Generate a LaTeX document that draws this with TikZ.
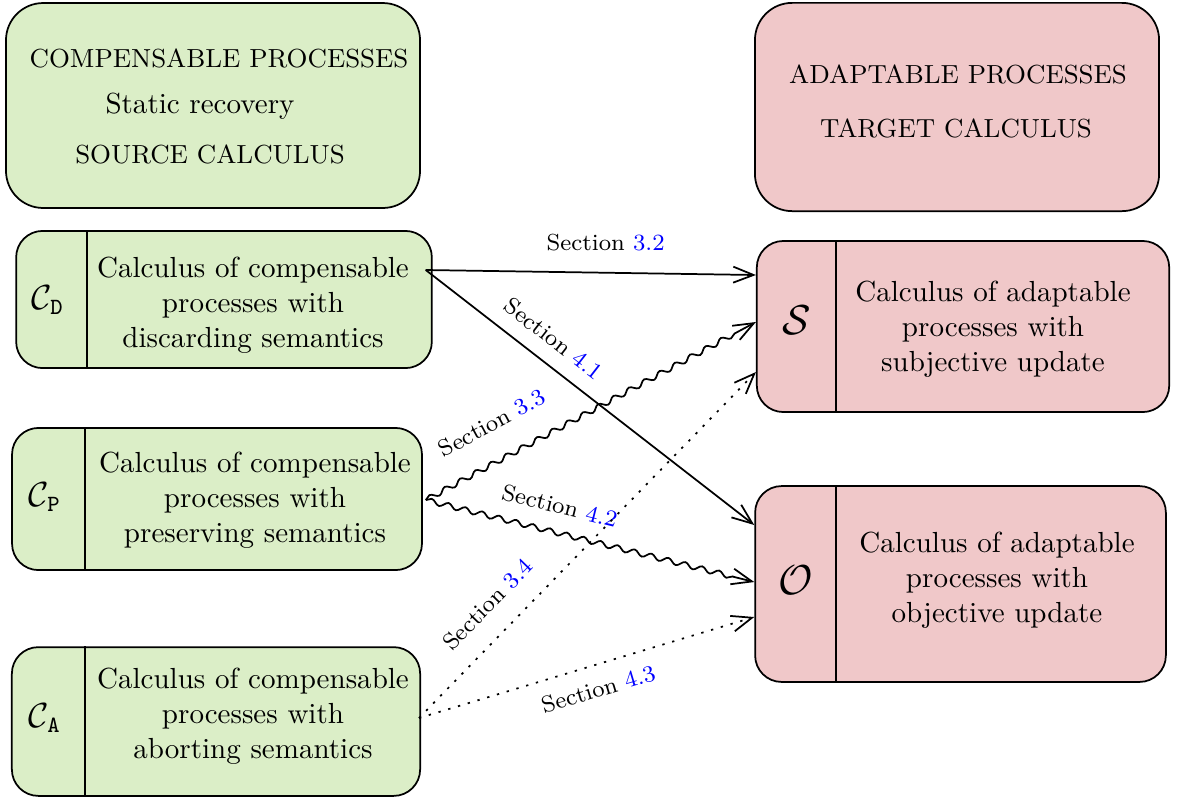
\documentclass[tikz,border=0pt]{standalone}
\usetikzlibrary{arrows.meta,calc,decorations.pathmorphing}
\definecolor{srcgreen}{RGB}{219,238,199}
\definecolor{tgtpink}{RGB}{240,200,201}
\begin{document}
\begin{tikzpicture}[x=0.0121cm, y=-0.0121cm,
    bigbox/.style={draw, semithick, rounded corners=0.45cm, inner sep=0pt},
    calcbox/.style={draw, semithick, rounded corners=0.32cm, inner sep=0pt},
    desc/.style={align=center},
    link/.style={semithick, -{Straight Barb[length=7pt,width=5.5pt]}},
    wavy/.style={link, decorate, decoration={snake, amplitude=0.9pt, segment length=6pt, post length=7pt}},
    dotlink/.style={link, dash pattern=on 0.8pt off 2.7pt},
    sec/.style={font=\footnotesize}]
    \useasboundingbox (0,0) rectangle (1179,800);
    \node[bigbox, fill=srcgreen, minimum width=5.01cm, minimum height=2.48cm] (src) at (213,105.5) {};
    \node (srcA) at (219,58) {\small COMPENSABLE PROCESSES};
    \node (srcB) at (200,106) {Static recovery};
    \node (srcC) at (210,154) {\small SOURCE CALCULUS};
    \node[bigbox, fill=tgtpink, minimum width=4.89cm, minimum height=2.52cm] (tgt) at (957,107) {};
    \node (tgtA) at (958,74) {\small ADAPTABLE PROCESSES};
    \node (tgtB) at (956,128) {\small TARGET CALCULUS};

    \node[calcbox, fill=srcgreen, minimum width=5.03cm, minimum height=1.66cm] (CD) at (224,299.5) {};
    \draw[semithick] (87,0 |- CD.north) -- (87,0 |- CD.south);
    \node (CDsym) at (48,300) {\large $\mathcal{C}_{\mathtt{D}}$};
    \node[desc] (CDtext) at (253,305) {Calculus of compensable\\processes with\\discarding semantics};

    \node[calcbox, fill=srcgreen, minimum width=4.96cm, minimum height=1.72cm] (CP) at (217,499) {};
    \draw[semithick] (85,0 |- CP.north) -- (85,0 |- CP.south);
    \node (CPsym) at (45,497) {\large $\mathcal{C}_{\mathtt{P}}$};
    \node[desc] (CPtext) at (255,500) {Calculus of compensable\\processes with\\preserving semantics};

    \node[calcbox, fill=srcgreen, minimum width=4.94cm, minimum height=1.80cm] (CA) at (216,721.5) {};
    \draw[semithick] (85,0 |- CA.north) -- (85,0 |- CA.south);
    \node (CAsym) at (45,718) {\large $\mathcal{C}_{\mathtt{A}}$};
    \node[desc] (CAtext) at (253,716) {Calculus of compensable\\processes with\\aborting semantics};

    \node[calcbox, fill=tgtpink, minimum width=4.99cm, minimum height=2.07cm] (S) at (963,326.5) {};
    \draw[semithick] (836,0 |- S.north) -- (836,0 |- S.south);
    \node (Ssym) at (797,320) {\Large $\mathcal{S}$};
    \node[desc] (Stext) at (993,329) {Calculus of adaptable\\processes with\\subjective update};

    \node[calcbox, fill=tgtpink, minimum width=4.97cm, minimum height=2.37cm] (O) at (960.5,584) {};
    \draw[semithick] (836,0 |- O.north) -- (836,0 |- O.south);
    \node (Osym) at (796,580) {\Large $\mathcal{O}$};
    \node[desc] (Otext) at (997,580) {Calculus of adaptable\\processes with\\objective update};

    \draw[link] ($(CD.east)+(-7,-29.5)$) -- node[sec, above=4pt, pos=0.545] {Section \textcolor{blue}{3.2}} ($(S.west)+(0,-51.5)$);
    \draw[link] ($(CD.east)+(-7,-29.5)$) -- node[sec, sloped, above=1.8pt, pos=0.345] {Section \textcolor{blue}{4.1}} ($(O.west)+(0,-59)$);
    \draw[wavy] ($(CP.east)+(3,1)$) -- node[sec, sloped, above=6pt, pos=0.253] {Section \textcolor{blue}{3.3}} ($(S.west)+(0,-4.5)$);
    \draw[wavy] ($(CP.east)+(3,1)$) -- node[sec, sloped, above=2.7pt, pos=0.388] {Section \textcolor{blue}{4.2}} ($(O.west)+(0,-2)$);
    \draw[dotlink] ($(CA.east)+(-2,-3.5)$) -- node[sec, sloped, above=3.9pt, pos=0.268] {Section \textcolor{blue}{3.4}} ($(S.west)+(0,45.5)$);
    \draw[dotlink] ($(CA.east)+(-2,-3.5)$) -- node[sec, sloped, below=1.8pt, pos=0.514] {Section \textcolor{blue}{4.3}} ($(O.west)+(0,33)$);
\end{tikzpicture}
\end{document}
